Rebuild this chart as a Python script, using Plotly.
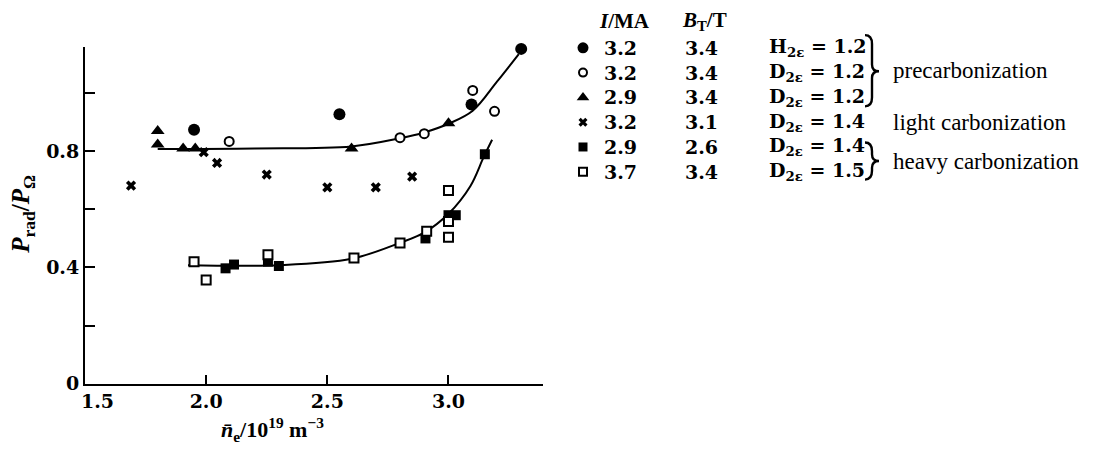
import plotly.graph_objects as go

# ---------------- data ----------------
fc_x = [1.95, 2.55, 3.095, 3.30]            # filled circles (H, 3.2 MA, 3.4 T)
fc_y = [0.874, 0.928, 0.961, 1.153]
oc_x = [2.095, 2.80, 2.90, 3.10, 3.19]      # open circles (D, 3.2 MA, 3.4 T)
oc_y = [0.834, 0.847, 0.861, 1.01, 0.938]
tri_x = [1.80, 1.80, 1.905, 1.955, 2.60, 3.00]   # triangles (D, 2.9 MA, 3.4 T)
tri_y = [0.87, 0.824, 0.81, 0.81, 0.81, 0.897]
cr_x = [1.69, 1.99, 2.045, 2.25, 2.50, 2.70, 2.85]   # crosses (light carbonization)
cr_y = [0.682, 0.797, 0.76, 0.72, 0.676, 0.676, 0.713]
fs_x = [2.08, 2.115, 2.255, 2.30, 2.905, 3.00, 3.03, 3.15]   # filled squares
fs_y = [0.397, 0.41, 0.42, 0.405, 0.50, 0.58, 0.58, 0.79]
os_x = [1.95, 2.00, 2.255, 2.61, 2.80, 2.91, 3.00, 3.00, 3.00]   # open squares
os_y = [0.42, 0.357, 0.444, 0.433, 0.484, 0.525, 0.665, 0.558, 0.504]

upper_x = [1.80, 2.2, 2.6, 2.8, 2.9, 3.0, 3.1, 3.2, 3.29]
upper_y = [0.808, 0.81, 0.817, 0.845, 0.865, 0.895, 0.94, 1.04, 1.135]
lower_x = [1.925, 2.3, 2.6, 2.8, 2.9, 3.0, 3.09, 3.145, 3.18]
lower_y = [0.408, 0.408, 0.43, 0.485, 0.52, 0.585, 0.68, 0.78, 0.84]

x_ticks = [1.5, 2.0, 2.5, 3.0]
x_ticktext = ["1.5", "2.0", "2.5", "3.0"]
y_ticks = [0, 0.2, 0.4, 0.6, 0.8, 1.0]
y_ticktext = ["0", "", "0.4", "", "0.8", ""]

leg_I = ["3.2", "3.2", "2.9", "3.2", "2.9", "3.7"]
leg_B = ["3.4", "3.4", "3.4", "3.1", "2.6", "3.4"]
leg_gas = ["H", "D", "D", "D", "D", "D"]
leg_ratio = ["1.2", "1.2", "1.2", "1.4", "1.4", "1.5"]
groups = ["precarbonization", "light carbonization", "heavy carbonization"]

W, H = 1104, 458
FONT = "Liberation Serif"
NUMF = "DejaVu Serif"
K = "black"

fig = go.Figure()

# curves
for cx, cy in [(upper_x, upper_y), (lower_x, lower_y)]:
    fig.add_trace(go.Scatter(x=cx, y=cy, mode="lines", line=dict(color=K, width=2, shape="spline", smoothing=1.0),
                             hoverinfo="skip", showlegend=False))

styles = [
    dict(symbol="x", size=9, color=K, line=dict(width=0)),
    dict(symbol="triangle-up", size=12, color=K, line=dict(width=0)),
    dict(symbol="circle", size=12, color=K, line=dict(width=0)),
    dict(symbol="circle", size=9, color="white", line=dict(color=K, width=2)),
    dict(symbol="square", size=10, color=K, line=dict(width=0)),
    dict(symbol="square", size=9, color="white", line=dict(color=K, width=2)),
]
series = [(cr_x, cr_y), (tri_x, tri_y), (fc_x, fc_y), (oc_x, oc_y), (fs_x, fs_y), (os_x, os_y)]
for (sx, sy), st in zip(series, styles):
    fig.add_trace(go.Scatter(x=sx, y=sy, mode="markers", marker=st, showlegend=False, cliponaxis=False))

# legend markers on a pixel-space overlay axis
row_y = [49, 74.4, 99.8, 125.2, 150.6, 176]
leg_styles = [styles[2], styles[3], styles[1], styles[0], styles[4], styles[5]]
for yy, st in zip(row_y, leg_styles):
    st2 = dict(st)
    st2["size"] = st["size"] - 1
    fig.add_trace(go.Scatter(x=[583], y=[yy], mode="markers", marker=st2, xaxis="x2", yaxis="y2",
                             showlegend=False, cliponaxis=False))

ann = []
def T(x, y, text, size=20, xanchor="center", bold=True, family=NUMF, angle=0):
    ann.append(dict(x=x, y=y, xref="x2", yref="y2", text=("<b>%s</b>" % text) if bold else text,
                    showarrow=False, xanchor=xanchor, yanchor="middle", textangle=angle,
                    font=dict(family=family, size=size, color=K)))

T(624, 21, "<i>I</i>/MA", size=21, family=FONT)
T(704, 21, "<i>B</i><sub>T</sub>/T", size=21, family=FONT)
for yy, i_, b_, g_, r_ in zip(row_y, leg_I, leg_B, leg_gas, leg_ratio):
    T(620, yy, i_, size=19)
    T(701, yy, b_, size=19)
    T(767, yy, "%s<sub>2ε</sub> = %s" % (g_, r_), xanchor="left", size=19)
T(891, 72, groups[0], xanchor="left", bold=False, size=23, family=FONT)
T(891, 126, groups[1], xanchor="left", bold=False, size=23, family=FONT)
T(891, 165, groups[2], xanchor="left", bold=False, size=23, family=FONT)

# x tick label "1.5" sits right of the axis corner in the original
T(97, 411, x_ticktext[0], size=19)

# axis titles
T(272, 440, "<i>n̄</i><sub>e</sub>/10<sup>19</sup> m<sup>−3</sup>", size=22, family=FONT)
T(23, 220, "<i>P</i><sub>rad</sub>/<i>P</i><sub>Ω</sub>", size=25, family=FONT, angle=-90)

def brace(x0, y0, y1, tip):
    xm = x0 + 7
    xt = x0 + 14
    return ("M %g %g Q %g %g %g %g L %g %g Q %g %g %g %g Q %g %g %g %g L %g %g Q %g %g %g %g"
            % (x0, y0, xm, y0, xm, y0 + 9, xm, tip - 7, xm, tip, xt, tip,
               xm, tip, xm, tip + 7, xm, y1 - 9, xm, y1, x0, y1))

shapes = [
    dict(type="path", xref="x2", yref="y2", path=brace(865, 36, 109, 73), line=dict(color=K, width=2.4)),
    dict(type="path", xref="x2", yref="y2", path=brace(865, 146, 184, 165), line=dict(color=K, width=2.4)),
]

xt_text = [""] + x_ticktext[1:]

fig.update_layout(
    width=W, height=H,
    margin=dict(l=0, r=0, t=0, b=0),
    paper_bgcolor="white", plot_bgcolor="rgba(0,0,0,0)",
    annotations=ann, shapes=shapes,
    xaxis=dict(domain=[85 / W, 543 / W], range=[1.5, 3.39], showline=True, linecolor=K, linewidth=2,
               showgrid=False, zeroline=False, ticks="inside", ticklen=9, tickwidth=2, tickcolor=K,
               tickvals=x_ticks, ticktext=xt_text,
               tickfont=dict(family=NUMF, size=19, color=K, weight="bold"), anchor="y"),
    yaxis=dict(domain=[(H - 393) / H, (H - 48) / H], range=[0, 1.16], showline=True, linecolor=K, linewidth=2,
               showgrid=False, zeroline=False, ticks="inside", ticklen=10, tickwidth=2, tickcolor=K,
               tickvals=y_ticks, ticktext=y_ticktext,
               tickfont=dict(family=NUMF, size=19, color=K, weight="bold"), anchor="x"),
    xaxis2=dict(domain=[0, 1], range=[0, W], visible=False, anchor="y2", fixedrange=True),
    yaxis2=dict(domain=[0, 1], range=[H, 0], visible=False, anchor="x2", fixedrange=True),
)

fig.write_html("out.html")
